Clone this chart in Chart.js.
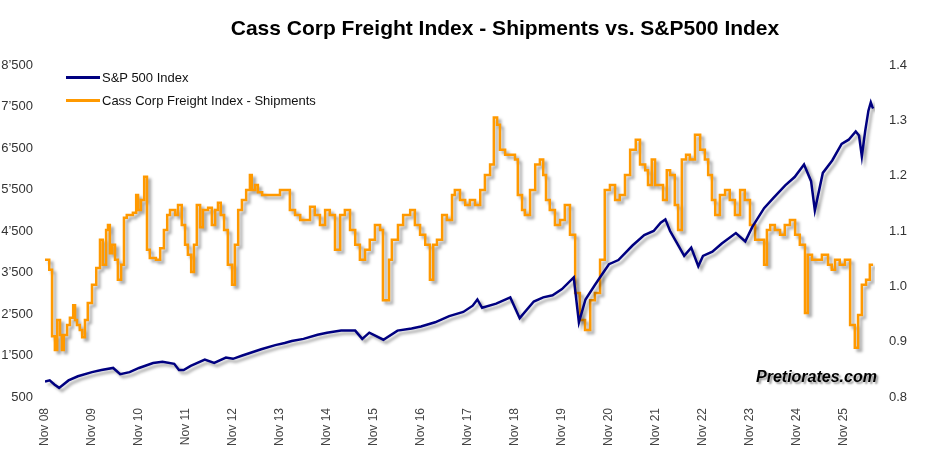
<!DOCTYPE html>
<html><head><meta charset="utf-8">
<script src="https://cdn.jsdelivr.net/npm/chart.js@4"></script>
<style>
body{margin:0;background:#fff;font-family:"Liberation Sans",Arial,sans-serif;}
#wrap{position:relative;width:945px;height:451px;}
#title{position:absolute;left:0;width:1010px;top:16px;text-align:center;font-weight:bold;font-size:21px;color:#000;}
.leg{position:absolute;left:66px;font-size:13px;color:#111;display:flex;align-items:center;}
.leg span{display:inline-block;width:34px;height:3px;margin-right:2px;}
#wm{position:absolute;left:756px;top:368px;font-weight:bold;font-style:italic;font-size:16px;color:#000;text-shadow:2px 2px 2px #999;}
</style></head><body>
<div id="wrap">
<canvas id="c" width="945" height="451"></canvas>
<div id="title">Cass Corp Freight Index - Shipments vs. S&amp;P500 Index</div>
<div class="leg" style="top:70px"><span style="background:#000080"></span>S&amp;P 500 Index</div>
<div class="leg" style="top:93px"><span style="background:#FF9900"></span>Cass Corp Freight Index - Shipments</div>
<div id="wm">Pretiorates.com</div>
</div>
<script>
// years since Nov 2008
const xTickLabels=["Nov 08","Nov 09","Nov 10","Nov 11","Nov 12","Nov 13","Nov 14","Nov 15","Nov 16","Nov 17","Nov 18","Nov 19","Nov 20","Nov 21","Nov 22","Nov 23","Nov 24","Nov 25"];
const spT=[0,.1,.2,.3,.5,.7,1.0,1.2,1.45,1.6,1.8,2.0,2.3,2.5,2.75,2.85,2.95,3.1,3.4,3.6,3.85,4.0,4.2,4.6,4.9,5.1,5.25,5.5,5.8,6.0,6.3,6.6,6.75,6.9,7.2,7.5,7.8,8.0,8.3,8.6,8.9,9.1,9.2,9.3,9.6,9.9,10.1,10.4,10.6,10.8,11.0,11.25,11.36,11.5,11.7,11.85,12.0,12.2,12.5,12.75,12.95,13.1,13.2,13.3,13.45,13.6,13.75,13.9,14.0,14.2,14.4,14.7,14.9,15.05,15.3,15.5,15.75,15.95,16.15,16.3,16.38,16.55,16.75,16.95,17.1,17.25,17.32,17.38,17.45,17.52,17.57,17.6,17.62];
const spV=[870,900,800,720,900,1000,1100,1150,1200,1050,1100,1200,1320,1350,1300,1150,1150,1250,1400,1320,1450,1420,1500,1650,1750,1800,1850,1900,2000,2050,2100,2100,1900,2050,1880,2100,2150,2200,2300,2450,2550,2700,2850,2650,2750,2900,2400,2800,2900,2950,3100,3380,2300,2850,3200,3450,3700,3800,4150,4400,4500,4700,4780,4500,4200,3900,4100,3650,3900,4000,4200,4450,4250,4600,5050,5300,5600,5800,6100,5700,5000,5900,6200,6600,6700,6900,6800,6300,6900,7400,7600,7500,7450];
const cassT=[0,.09,.15,.21,.26,.32,.36,.40,.47,.53,.60,.64,.68,.74,.79,.85,.91,1.0,1.09,1.17,1.23,1.30,1.34,1.38,1.43,1.49,1.55,1.62,1.68,1.74,1.87,1.94,1.98,2.04,2.11,2.17,2.23,2.36,2.45,2.53,2.60,2.66,2.77,2.83,2.91,2.98,3.04,3.11,3.17,3.23,3.30,3.36,3.47,3.55,3.62,3.68,3.74,3.81,3.89,3.98,4.04,4.11,4.19,4.28,4.36,4.40,4.47,4.53,4.62,4.79,5.0,5.21,5.32,5.43,5.64,5.74,5.85,5.96,6.06,6.17,6.28,6.38,6.49,6.60,6.70,6.81,6.91,7.02,7.13,7.19,7.26,7.32,7.38,7.51,7.62,7.77,7.87,7.98,8.09,8.19,8.26,8.34,8.45,8.55,8.66,8.72,8.83,8.94,9.04,9.15,9.26,9.36,9.47,9.55,9.62,9.68,9.79,10.0,10.06,10.15,10.21,10.32,10.43,10.53,10.60,10.66,10.74,10.85,10.96,11.06,11.17,11.28,11.38,11.49,11.60,11.70,11.81,11.91,12.02,12.13,12.23,12.34,12.45,12.57,12.66,12.77,12.83,12.91,12.98,13.15,13.23,13.30,13.40,13.47,13.55,13.64,13.72,13.83,13.94,14.04,14.11,14.19,14.26,14.36,14.47,14.57,14.68,14.79,14.89,15.0,15.11,15.21,15.30,15.36,15.43,15.53,15.64,15.74,15.85,15.96,16.06,16.17,16.23,16.32,16.53,16.66,16.74,16.81,16.91,17.02,17.13,17.23,17.30,17.38,17.47,17.55,17.62];
const cassV=[1.048,1.030,0.910,0.885,0.939,0.912,0.885,0.912,0.930,0.943,0.966,0.939,0.930,0.921,0.908,0.939,0.970,1.003,1.033,1.084,1.039,1.102,1.111,1.060,1.075,1.048,1.012,1.039,1.124,1.129,1.133,1.165,1.138,1.156,1.198,1.066,1.051,1.048,1.069,1.102,1.129,1.138,1.129,1.147,1.111,1.075,1.057,1.026,1.075,1.147,1.107,1.138,1.142,1.111,1.138,1.151,1.129,1.102,1.039,1.003,1.075,1.138,1.156,1.174,1.201,1.174,1.183,1.170,1.165,1.165,1.174,1.138,1.129,1.120,1.144,1.129,1.111,1.138,1.129,1.066,1.129,1.138,1.102,1.075,1.048,1.066,1.084,1.111,1.102,0.975,0.975,1.048,1.084,1.111,1.129,1.138,1.111,1.093,1.075,1.012,1.075,1.084,1.129,1.120,1.165,1.174,1.156,1.147,1.156,1.147,1.174,1.201,1.220,1.305,1.292,1.247,1.238,1.229,1.165,1.138,1.129,1.174,1.220,1.229,1.201,1.156,1.138,1.111,1.120,1.147,1.093,0.988,0.939,0.921,0.975,0.988,1.048,1.174,1.183,1.156,1.165,1.201,1.247,1.265,1.220,1.210,1.183,1.229,1.183,1.156,1.210,1.201,1.147,1.102,1.229,1.238,1.229,1.274,1.247,1.229,1.201,1.156,1.129,1.165,1.174,1.156,1.129,1.174,1.156,1.111,1.084,1.084,1.039,1.102,1.111,1.102,1.093,1.111,1.120,1.093,1.075,0.952,1.057,1.048,1.057,1.039,1.030,1.048,1.039,1.048,0.930,0.889,0.948,1.003,1.012,1.039,1.039];
const leftTicks=[500,1500,2500,3500,4500,5500,6500,7500,8500];
const rightTicks=[0.8,0.9,1.0,1.1,1.2,1.3,1.4];

const toXY=(t,v)=>t.map((x,i)=>({x:x,y:v[i]}));
const shadow={id:'shadow',beforeDatasetsDraw(c){const g=c.ctx;g.save();g.shadowColor='rgba(0,0,0,0.35)';g.shadowBlur=3;g.shadowOffsetX=3;g.shadowOffsetY=3;},afterDatasetsDraw(c){c.ctx.restore();}};
const tickFont={family:'"Liberation Sans", Arial, sans-serif',size:13};
new Chart(document.getElementById('c'),{
 type:'line',
 data:{datasets:[
  {label:'S&P 500 Index',data:toXY(spT,spV),borderColor:'#000080',borderWidth:2.5,pointRadius:0,yAxisID:'yL',order:0,tension:0},
  {label:'Cass',data:toXY(cassT,cassV),borderColor:'#FF9900',borderWidth:2.5,pointRadius:0,yAxisID:'yR',stepped:true,order:1}
 ]},
 options:{responsive:false,animation:false,
  layout:{padding:{top:65,left:0,right:0,bottom:0}},
  plugins:{legend:{display:false},tooltip:{enabled:false}},
  scales:{
   x:{type:'linear',min:0,max:17.66,grid:{display:false},border:{display:false},
      afterBuildTicks(a){a.ticks=xTickLabels.map((_,i)=>({value:i}));},
      afterFit(a){a.height=54;},
      ticks:{minRotation:90,maxRotation:90,autoSkip:false,color:'#444',font:{family:'"Liberation Sans", Arial, sans-serif',size:12},callback:(v)=>xTickLabels[v]}},
   yL:{position:'left',min:500,max:8500,grid:{display:false},border:{display:false},
      afterBuildTicks(a){a.ticks=leftTicks.map(v=>({value:v}));},
      afterFit(a){a.width=45;},
      ticks:{color:'#333',font:tickFont,padding:4,callback:v=>v>=1000?Math.floor(v/1000)+"’"+String(v%1000).padStart(3,'0'):String(v)}},
   yR:{position:'right',min:0.8,max:1.4,grid:{display:false},border:{display:false},
      afterBuildTicks(a){a.ticks=rightTicks.map(v=>({value:v}));},
      afterFit(a){a.width=70;},
      ticks:{color:'#333',font:tickFont,padding:6,callback:v=>v.toFixed(1)}}
  }},
 plugins:[shadow]
});
</script></body></html>
